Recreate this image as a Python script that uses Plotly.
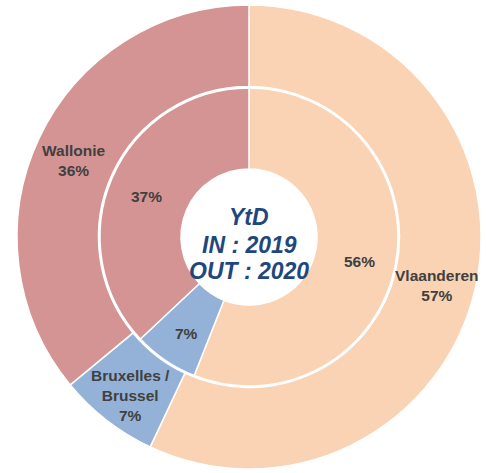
import math
import plotly.graph_objects as go

regions = ["Vlaanderen", "Bruxelles /<br>Brussel", "Wallonie"]
outer_values = [57, 7, 36]   # OUT : 2020
inner_values = [56, 7, 37]   # IN : 2019
colors = ["#F9D3B3", "#94B2D8", "#D59494"]
center_lines = ["YtD", "IN : 2019", "OUT : 2020"]

W, H = 486, 473
cx, cy = 249, 237
R_out, R_gap, R_in, R_hole = 232, 150.5, 149, 68

def dom(r):
    return dict(x=[(cx - r) / W, (cx + r) / W],
                y=[(H - cy - r) / H, (H - cy + r) / H])

FONT = "Liberation Sans, Arial, sans-serif"
txtfont = dict(family=FONT, size=15.5, color="#404040", weight="bold")

fig = go.Figure()
for vals, r, hole in [(outer_values, R_out, R_gap / R_out), (inner_values, R_in, R_hole / R_in)]:
    fig.add_trace(go.Pie(
        labels=regions, values=vals, sort=False, direction="clockwise", rotation=0,
        hole=hole, domain=dom(r),
        marker=dict(colors=colors, line=dict(color="white", width=1.5)),
        textinfo="none", hoverinfo="skip", showlegend=False,
    ))

def ring_labels(values, texts, r_lab, yshift):
    total = sum(values)
    cum = 0
    for t, v in zip(texts, values):
        theta = math.radians((cum + v / 2) / total * 360)
        cum += v
        px = cx + r_lab * math.sin(theta)
        py = cy - r_lab * math.cos(theta)
        fig.add_annotation(
            text=t, x=px / W, y=1 - py / H,
            xref="paper", yref="paper", showarrow=False, align="center",
            xanchor="center", yanchor="middle", yshift=yshift, font=txtfont,
        )

ring_labels(outer_values, ["%s<br>%d%%" % (l, v) for l, v in zip(regions, outer_values)], 193, -6)
ring_labels(inner_values, ["%d%%" % v for v in inner_values], 112, -4)

# center text
center_y = [217, 245, 271]
for s, yy in zip(center_lines, center_y):
    fig.add_annotation(
        text="<b><i>%s</i></b>" % s, x=cx / W, y=1 - yy / H,
        xref="paper", yref="paper", showarrow=False,
        xanchor="center", yanchor="middle",
        font=dict(family=FONT, size=23, color="#1F477E"),
    )

fig.update_layout(
    width=W, height=H, margin=dict(l=0, r=0, t=0, b=0),
    paper_bgcolor="white", plot_bgcolor="white",
)
fig.write_html("out.html", config={"displayModeBar": False},
               post_script="document.body.style.margin='0';")
